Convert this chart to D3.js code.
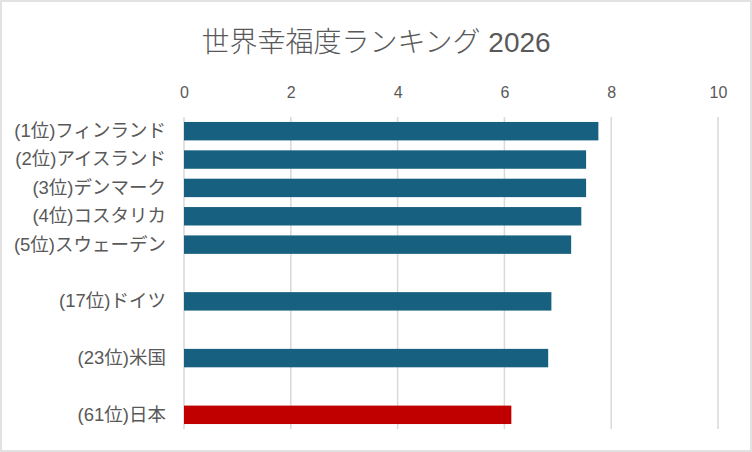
<!DOCTYPE html>
<html><head><meta charset="utf-8">
<script src="https://cdn.jsdelivr.net/npm/d3@7"></script>
<style>
html,body{margin:0;padding:0;background:#fff;}
svg{display:block;}
text{font-family:"Liberation Sans","Noto Sans CJK JP",sans-serif;fill:#595959;}
</style></head>
<body>
<svg id="chart" width="752" height="452"></svg>
<script>
const title = "世界幸福度ランキング 2026";
const categories = ["(1位)フィンランド","(2位)アイスランド","(3位)デンマーク","(4位)コスタリカ","(5位)スウェーデン","","(17位)ドイツ","","(23位)米国","","(61位)日本"];
const values = [7.76, 7.53, 7.53, 7.44, 7.25, null, 6.88, null, 6.82, null, 6.13];
const highlight = ["(61位)日本"];
const xTicks = [0, 2, 4, 6, 8, 10];

const W = 752, H = 452;
const margin = {left: 184, right: 34, top: 117, bottom: 23};
const svg = d3.select("#chart");

svg.append("rect").attr("x", 1).attr("y", 1).attr("width", W - 2).attr("height", H - 2)
  .attr("fill", "#fff").attr("stroke", "#d9d9d9").attr("stroke-width", 1.5);

const x = d3.scaleLinear().domain([0, 10]).range([margin.left, W - margin.right]);
const y = d3.scaleBand().domain(categories.map((c, i) => i)).range([margin.top, H - margin.bottom]).paddingInner(0.35).paddingOuter(0.175);

// gridlines
svg.append("g").selectAll("line").data(xTicks).join("line")
  .attr("x1", d => x(d)).attr("x2", d => x(d))
  .attr("y1", margin.top).attr("y2", H - margin.bottom)
  .attr("stroke", "#d9d9d9").attr("stroke-width", 1.5);

// top axis
const axis = d3.axisTop(x).tickValues(xTicks).tickSize(0).tickPadding(0);
const ga = svg.append("g").attr("transform", `translate(0,${98})`).call(axis);
ga.select(".domain").remove();
ga.selectAll("text").style("font-size", "16px").attr("fill", "#595959").attr("font-family", "Liberation Sans, sans-serif");

// bars
svg.append("g").selectAll("rect").data(values.map((v, i) => ({v, i})).filter(d => d.v != null)).join("rect")
  .attr("x", x(0)).attr("y", d => y(d.i))
  .attr("width", d => x(d.v) - x(0)).attr("height", y.bandwidth())
  .attr("fill", d => highlight.includes(categories[d.i]) ? "#c00000" : "#17607f");

// category labels
const ya = d3.axisLeft(y).tickFormat(i => categories[i]).tickSize(0).tickPadding(18);
const gy = svg.append("g").attr("transform", `translate(${x(0)},0)`).call(ya);
gy.select(".domain").remove();
gy.selectAll("text").style("font-size", "18.5px").attr("fill", "#595959");

// title
svg.append("text").attr("x", 376).attr("y", 52).attr("text-anchor", "middle")
  .style("font-size", "28px").style("font-weight", "300").text(title);
</script>
</body></html>
